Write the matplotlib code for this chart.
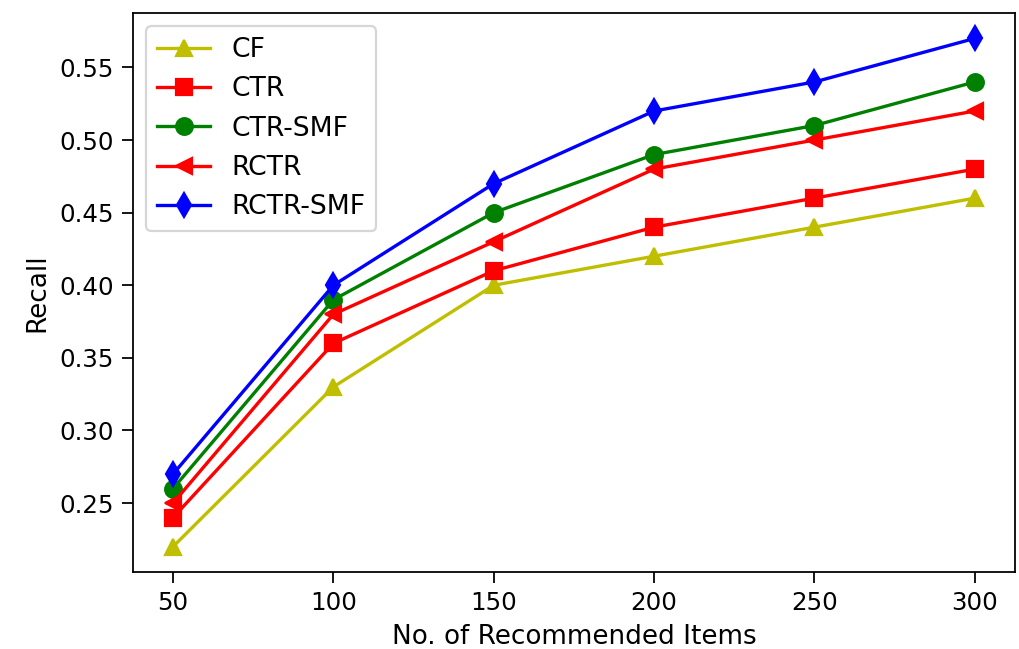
import matplotlib
matplotlib.use('Agg')
import matplotlib.pyplot as plt

items = [50, 100, 150, 200, 250, 300]
recall_cf = [0.22, 0.33, 0.40, 0.42, 0.44, 0.46]
recall_ctr = [0.24, 0.36, 0.41, 0.44, 0.46, 0.48]
recall_ctr_smf = [0.26, 0.39, 0.45, 0.49, 0.51, 0.54]
recall_rctr = [0.25, 0.38, 0.43, 0.48, 0.50, 0.52]
recall_rctr_smf = [0.27, 0.40, 0.47, 0.52, 0.54, 0.57]

fig, ax = plt.subplots(figsize=(1019/160, 649/160), dpi=160)
fig.subplots_adjust(left=0.1305, right=0.996, top=0.98, bottom=0.1186)

ms = 7.5
ax.plot(items, recall_cf, 'y^-', ms=ms, label='CF')
ax.plot(items, recall_ctr, 'rs-', ms=ms, label='CTR')
ax.plot(items, recall_ctr_smf, 'go-', ms=ms, label='CTR-SMF')
ax.plot(items, recall_rctr, 'r<-', ms=ms, label='RCTR')
ax.plot(items, recall_rctr_smf, 'bd-', ms=ms, label='RCTR-SMF')

ax.set_xlabel('No. of Recommended Items', fontsize=11.8)
ax.set_ylabel('Recall', fontsize=11.8)
ax.tick_params(axis='both', labelsize=11, length=5)
ax.legend(loc='upper left', fontsize=12)

fig.savefig('out.png', dpi=160)
